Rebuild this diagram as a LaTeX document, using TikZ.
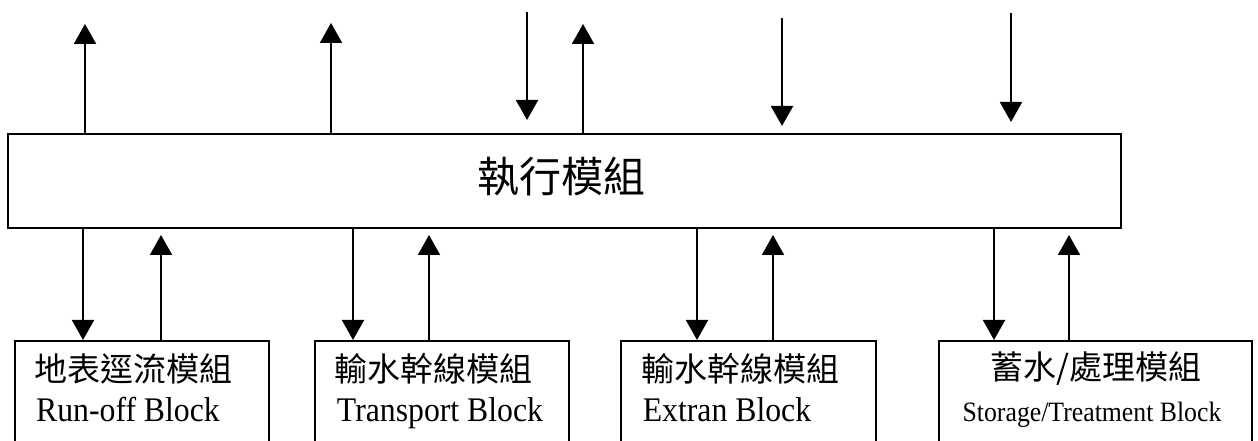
\documentclass[tikz,border=0pt]{standalone}
\usepackage{fontspec}
\setmainfont{Liberation Serif}
\newfontfamily\cjk{Noto Sans CJK TC}
\newfontfamily\enfont[FakeStretch=0.92]{Liberation Serif}
\usetikzlibrary{arrows.meta}
\begin{document}
\begin{tikzpicture}[x=1pt,y=1pt,
  arr/.style={line width=2pt,-{Triangle[width=22pt,length=20pt]}},
  uparr/.style={arr,shorten >=6pt},
  blk/.style={draw,line width=2pt,minimum height=110pt,inner sep=0pt},
  cjkbox/.style={font=\cjk\fontsize{33}{36}\selectfont,inner sep=0pt},
  enbox/.style={font=\enfont\fontsize{34.5}{40}\selectfont,inner sep=0pt,anchor=base}]
\useasboundingbox (0,0) rectangle (1258,441);
\clip (0,0) rectangle (1258,441);
% main block
\node[draw,line width=2pt,minimum width=1113pt,minimum height=94pt,inner sep=0pt] (main) at (564.5,260) {};
\node[font=\cjk\fontsize{42}{46}\selectfont,inner sep=0pt] (mt) at (561,264) {執行模組};
% bottom blocks
\node[blk,minimum width=254pt] (b1) at (142,45) {};
\node[blk,minimum width=254pt] (b2) at (442,45) {};
\node[blk,minimum width=255pt] (b3) at (748.5,45) {};
\node[blk,minimum width=313pt] (b4) at (1095.5,45) {};
\node[cjkbox] (t1) at (133.5,72) {地表逕流模組};
\node[enbox] (e1) at (128,19) {Run-off Block};
\node[cjkbox] (t2) at (433,72) {輸水幹線模組};
\node[enbox] (e2) at (440,19) {Transport Block};
\node[cjkbox] (t3) at (740,72) {輸水幹線模組};
\node[enbox] (e3) at (727,19) {Extran Block};
\node[cjkbox] (t4) at (1096,72) {蓄水/處理模組};
\node[enbox,font=\enfont\fontsize{28}{32}\selectfont] (e4) at (1092,19) {Storage/Treatment Block};
% top connectors
\coordinate (u1) at (85,417);
\coordinate (u2) at (331,418);
\coordinate (u3) at (583,417);
\coordinate (d1s) at (527,429);
\coordinate (d1e) at (527,321);
\coordinate (d2s) at (782,423);
\coordinate (d2e) at (782,315);
\coordinate (d3s) at (1011,428);
\coordinate (d3e) at (1011,319);
\draw[arr] (main.north -| u1) -- (u1);
\draw[arr] (main.north -| u2) -- (u2);
\draw[arr] (main.north -| u3) -- (u3);
\draw[arr] (d1s) -- (d1e);
\draw[arr] (d2s) -- (d2e);
\draw[arr] (d3s) -- (d3e);
% bottom connectors
\coordinate (c1d) at (83,0);
\coordinate (c1u) at (161,0);
\coordinate (c2d) at (353,0);
\coordinate (c2u) at (429,0);
\coordinate (c3d) at (697,0);
\coordinate (c3u) at (773,0);
\coordinate (c4d) at (994,0);
\coordinate (c4u) at (1069,0);
\draw[arr] (main.south -| c1d) -- (b1.north -| c1d);
\draw[uparr] (b1.north -| c1u) -- (main.south -| c1u);
\draw[arr] (main.south -| c2d) -- (b2.north -| c2d);
\draw[uparr] (b2.north -| c2u) -- (main.south -| c2u);
\draw[arr] (main.south -| c3d) -- (b3.north -| c3d);
\draw[uparr] (b3.north -| c3u) -- (main.south -| c3u);
\draw[arr] (main.south -| c4d) -- (b4.north -| c4d);
\draw[uparr] (b4.north -| c4u) -- (main.south -| c4u);
\end{tikzpicture}
\end{document}
